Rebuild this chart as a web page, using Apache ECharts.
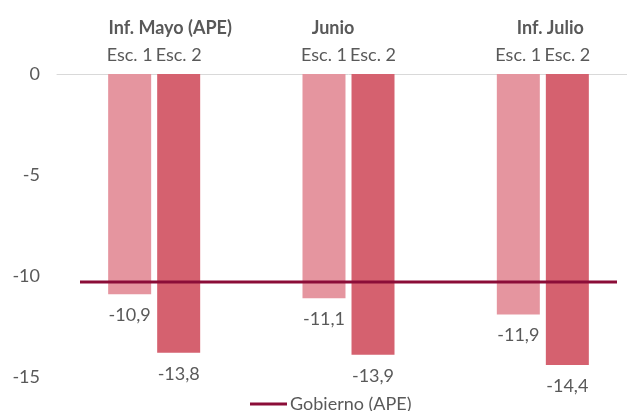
<!DOCTYPE html>
<html>
<head>
<meta charset="utf-8">
<script src="https://cdn.jsdelivr.net/npm/echarts@6/dist/echarts.min.js"></script>
<style>html,body{margin:0;padding:0;background:#fff;overflow:hidden;width:627px;height:411px}#c{width:660px;height:411px}</style>
</head>
<body>
<div id="c"></div>
<script>
const categories = ['Inf. Mayo (APE)', 'Junio', 'Inf. Julio'];
const seriesNames = ['Esc. 1', 'Esc. 2'];
const esc1 = [-10.9, -11.1, -11.9];
const esc2 = [-13.8, -13.9, -14.4];
const gobiernoName = 'Gobierno (APE)';
const gobierno = [-10.3, -10.3];
const yTicks = [0, -5, -10, -15];
const labelZero = [0, 0, 0];

const FONT = 'Lato';
const TXT = '#595959';
const C1 = '#E5959F';
const C2 = '#D5616F';
const CL = '#8B0D38';

const chart = echarts.init(document.getElementById('c'), null, {renderer: 'canvas'});
const fmt = v => String(v).replace('.', ',');
const catPad = [[0,0,0,32],[0,31,0,0],[0,0,0,15]];

function labelSeries(name, stack) {
  return {
    name: name + '_lbl', type: 'bar', stack: stack, xAxisIndex: 0, yAxisIndex: 0,
    data: labelZero, barWidth: 43, barGap: '14%',
    itemStyle: {color: 'transparent'}, silent: true,
    label: {show: true, position: 'top', distance: 10, formatter: () => name,
      color: TXT, fontFamily: FONT, fontSize: 18}
  };
}
function valueSeries(name, stack, data, color) {
  return {
    name: name, type: 'bar', stack: stack, xAxisIndex: 0, yAxisIndex: 0,
    data: data, barWidth: 43, barGap: '14%',
    itemStyle: {color: color},
    label: {show: true, position: 'bottom', distance: 12, formatter: p => fmt(p.value),
      color: TXT, fontFamily: FONT, fontSize: 18}
  };
}

const option = {
  animation: false,
  textStyle: {fontFamily: FONT},
  legend: {
    data: [{name: gobiernoName, icon: 'rect'}],
    left: 250, top: 395, padding: 0, itemWidth: 37, itemHeight: 3, itemGap: 3,
    textStyle: {color: TXT, fontFamily: FONT, fontSize: 18, padding: [0,0,0,-2]}
  },
  grid: [
    {left: 57, top: 74, width: 583, height: 303, containLabel: false},
    {left: 80, top: 74, width: 537, height: 303, containLabel: false}
  ],
  xAxis: [
    {type: 'category', gridIndex: 0, position: 'top', data: categories,
      axisLine: {show: true, lineStyle: {color: '#D9D9D9', width: 1}},
      axisTick: {show: false},
      axisLabel: {margin: 37, interval: 0,
        formatter: (v, i) => '{c' + i + '|' + v + '}',
        rich: {
          c0: {padding: catPad[0], fontWeight: 'bold', color: TXT, fontFamily: FONT, fontSize: 18},
          c1: {padding: catPad[1], fontWeight: 'bold', color: TXT, fontFamily: FONT, fontSize: 18},
          c2: {padding: catPad[2], fontWeight: 'bold', color: TXT, fontFamily: FONT, fontSize: 18}
        }
      }
    },
    {type: 'category', gridIndex: 1, data: ['', ''], boundaryGap: false, show: false}
  ],
  yAxis: [
    {type: 'value', gridIndex: 0, min: -15, max: 0, interval: 5,
      axisLine: {show: false}, axisTick: {show: false}, splitLine: {show: false},
      axisLabel: {margin: 17, color: TXT, fontFamily: FONT, fontSize: 18}
    },
    {type: 'value', gridIndex: 1, min: -15, max: 0, interval: 5, show: false, splitLine: {show: false}}
  ],
  series: [
    labelSeries(seriesNames[0], 's1'),
    valueSeries(seriesNames[0], 's1', esc1, C1),
    labelSeries(seriesNames[1], 's2'),
    valueSeries(seriesNames[1], 's2', esc2, C2),
    {name: gobiernoName, type: 'line', xAxisIndex: 1, yAxisIndex: 1, data: gobierno,
      symbol: 'none', z: 10, lineStyle: {color: CL, width: 3}, itemStyle: {color: CL}}
  ]
};
chart.setOption(option);
</script>
</body>
</html>
